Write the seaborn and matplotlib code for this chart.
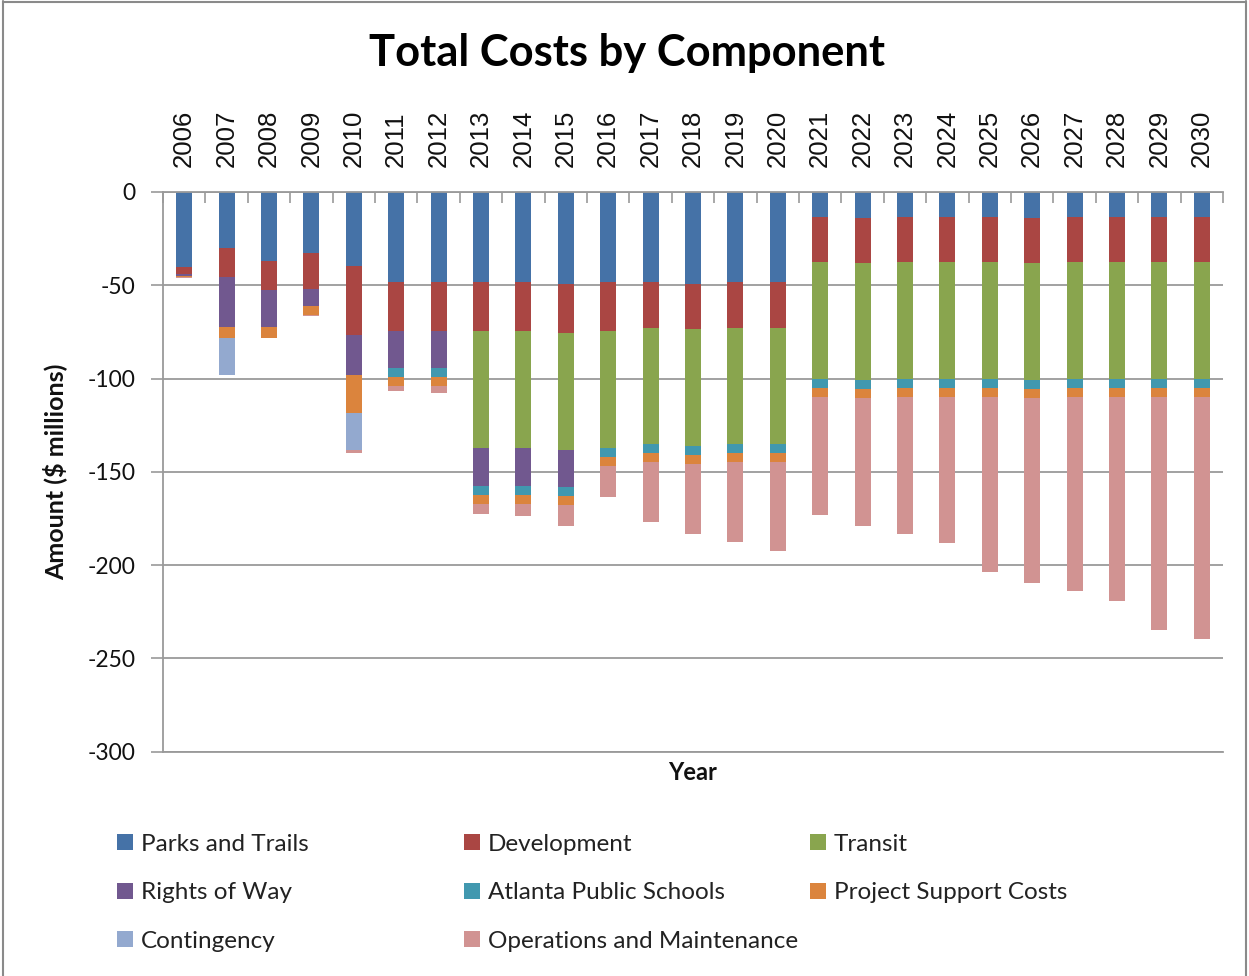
import numpy as np
import pandas as pd
import matplotlib
matplotlib.use("Agg")
import matplotlib.pyplot as plt
import seaborn as sns
from matplotlib.patches import Patch
from matplotlib.lines import Line2D

# ---------------- data ($ millions, shown as negative costs) ----------------
years = [str(y) for y in range(2006, 2031)]

parks_and_trails = [40.0, 30.0, 36.8, 32.7, 39.7, 48.4, 48.4, 48.5, 48.5, 49.5, 48.5, 48.5, 49.5,
                    48.5, 48.5, 13.4, 14.1, 13.4, 13.4, 13.4, 14.1, 13.4, 13.4, 13.4, 13.4]
development = [4.0, 15.7, 15.9, 19.3, 37.1, 26.2, 26.2, 26.2, 26.2, 25.9, 26.2, 24.2, 24.0,
               24.2, 24.2, 24.2, 24.2, 24.2, 24.2, 24.2, 24.2, 24.2, 24.2, 24.2, 24.2]
transit = [0, 0, 0, 0, 0, 0, 0, 62.8, 62.8, 62.8, 62.8, 62.6, 62.5,
           62.6, 62.6, 62.6, 62.4, 62.6, 62.6, 62.6, 62.4, 62.6, 62.6, 62.6, 62.6]
rights_of_way = [1.0, 26.8, 19.8, 8.9, 21.1, 19.9, 19.9, 20.0, 20.0, 19.9, 0, 0, 0,
                 0, 0, 0, 0, 0, 0, 0, 0, 0, 0, 0, 0]
atlanta_public_schools = [0, 0, 0, 0, 0, 4.8, 4.8, 4.7, 4.7, 5.0, 4.8, 4.9, 4.9,
                          4.9, 4.9, 4.8, 4.9, 4.8, 4.8, 4.8, 4.9, 4.8, 4.8, 4.8, 4.8]
project_support_costs = [0.7, 5.6, 5.6, 4.8, 20.5, 4.8, 4.8, 5.0, 5.0, 4.6, 4.8, 4.8, 4.8,
                         4.8, 4.8, 4.8, 4.8, 4.8, 4.8, 4.8, 4.8, 4.8, 4.8, 4.8, 4.8]
contingency = [0, 19.8, 0, 0, 19.9, 0, 0, 0, 0, 0, 0, 0, 0,
               0, 0, 0, 0, 0, 0, 0, 0, 0, 0, 0, 0]
operations_and_maintenance = [0.5, 0.4, 0.4, 0.6, 1.4, 2.5, 3.9, 5.4, 6.6, 11.5, 16.3, 32.2, 37.6,
                              42.6, 47.5, 63.3, 68.5, 73.5, 78.3, 94.1, 99.5, 104.3, 109.3, 124.9, 129.7]

components = ["Parks and Trails", "Development", "Transit", "Rights of Way",
              "Atlanta Public Schools", "Project Support Costs", "Contingency",
              "Operations and Maintenance"]
series = [parks_and_trails, development, transit, rights_of_way, atlanta_public_schools,
          project_support_costs, contingency, operations_and_maintenance]
colors = ["#4572A7", "#AA4643", "#89A54E", "#71588F", "#4198AF", "#DB843D", "#93A9CF", "#D19392"]

y_ticks = [0, -50, -100, -150, -200, -250, -300]

# ---------------- figure ----------------
sns.set_style("white")
plt.rcParams["axes.unicode_minus"] = False
W, H = 1249, 976
fig = plt.figure(figsize=(W / 100, H / 100), dpi=100)
ax_left, ax_right, ax_top, ax_bottom = 163, 1223, 192, 751.5
ax = fig.add_axes([ax_left / W, 1 - ax_bottom / H, (ax_right - ax_left) / W, (ax_bottom - ax_top) / H])

cum = np.cumsum(np.array(series, dtype=float), axis=0)
for i in reversed(range(len(series))):
    df = pd.DataFrame({"Year": years, "Amount": -cum[i]})
    sns.barplot(data=df, x="Year", y="Amount", order=years, color=colors[i], width=0.38,
                saturation=1, errorbar=None, ax=ax, linewidth=0)

grid_c = "#9a9a9a"
ax.set_xlim(-0.5, len(years) - 0.5)
ax.set_ylim(-300, 0)
ax.set_axisbelow(True)
ax.set_yticks(y_ticks)
ax.set_yticklabels([str(v) for v in y_ticks], fontfamily="Lato", fontsize=16.5, color="#111111")
ax.yaxis.grid(True, color=grid_c, linewidth=1.3)
ax.xaxis.grid(False)
ax.tick_params(axis="y", direction="out", length=9, width=1.2, color=grid_c, pad=11, left=True)

# category axis on top (at 0)
ax.xaxis.tick_top()
ax.set_xticks(range(len(years)))
ax.set_xticklabels(years, rotation=90, fontfamily="Liberation Sans", fontsize=18.5, color="#111111")
ax.set_xticks(np.arange(-0.5, len(years), 1.0), minor=True)
ax.tick_params(axis="x", which="major", length=0, pad=18, top=True, bottom=False)
ax.tick_params(axis="x", which="minor", direction="in", length=8, width=1.2, color=grid_c,
               top=True, bottom=False)

for side in ["top", "left", "bottom"]:
    ax.spines[side].set_visible(True)
    ax.spines[side].set_color(grid_c)
    ax.spines[side].set_linewidth(1.3)
ax.spines["right"].set_visible(False)

ax.set_xlabel("")
ax.set_ylabel("")
fig.text(693 / W, 1 - 772 / H, "Year", ha="center", va="center", fontfamily="Lato",
         fontweight="bold", fontsize=17, color="#111111")
fig.text(55 / W, 1 - 472 / H, "Amount ($ millions)", ha="center", va="center", rotation=90,
         fontfamily="Lato", fontweight="bold", fontsize=18, color="#111111")
fig.text(627 / W, 1 - 53 / H, "Total Costs by Component", ha="center", va="center",
         fontfamily="Lato", fontweight="bold", fontsize=31.3, color="#000000")

# legend: three columns
col_x = [117, 464, 810]
columns = [[0, 3, 6], [1, 4, 7], [2, 5]]
for cx, idxs in zip(col_x, columns):
    handles = [Patch(facecolor=colors[k], edgecolor="none", label=components[k]) for k in idxs]
    leg = fig.legend(handles=handles, loc="upper left", bbox_to_anchor=(cx / W, 1 - 834 / H),
                     frameon=False, prop={"family": "Lato", "size": 17.5},
                     handlelength=0.64, handleheight=0.64, handletextpad=0.33,
                     labelspacing=1.13, borderpad=0, borderaxespad=0)
    for t in leg.get_texts():
        t.set_color("#222222")

# chart border
fig.add_artist(Line2D([3 / W, 3 / W], [0, 1 - 1 / H], color="#8a8a8a", lw=1.5))
fig.add_artist(Line2D([3 / W, 1246 / W], [1 - 1.5 / H, 1 - 1.5 / H], color="#8a8a8a", lw=1.5))
fig.add_artist(Line2D([1246 / W, 1246 / W], [0, 1 - 1 / H], color="#8a8a8a", lw=1.5))

fig.savefig("out.png", dpi=100, facecolor="white")
